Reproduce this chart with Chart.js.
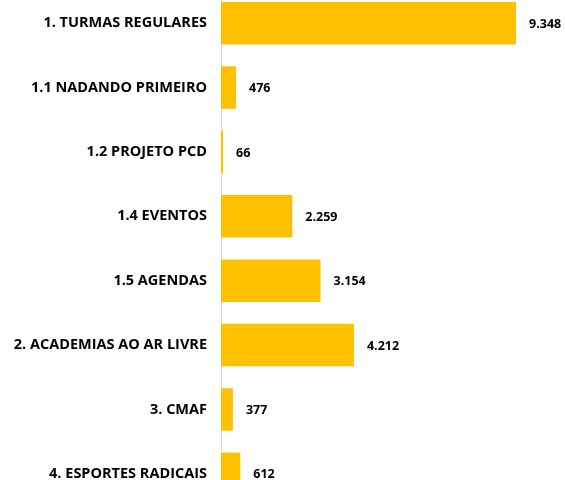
<!DOCTYPE html>
<html>
<head>
<meta charset="utf-8">
<script src="https://cdn.jsdelivr.net/npm/chart.js@4"></script>
<style>
  html, body { margin:0; padding:0; background:#fff; overflow:hidden; }
  #wrap { position:absolute; left:0; top:-9px; width:565px; height:515px; }
</style>
</head>
<body>
<div id="wrap"><canvas id="chart"></canvas></div>
<script>
// ===== dados =====
const categorias = [
  '1. TURMAS REGULARES',
  '1.1 NADANDO PRIMEIRO',
  '1.2 PROJETO PCD',
  '1.4 EVENTOS',
  '1.5 AGENDAS',
  '2. ACADEMIAS AO AR LIVRE',
  '3. CMAF',
  '4. ESPORTES RADICAIS'
];
const valores = [9348, 476, 66, 2259, 3154, 4212, 377, 612];

const FONTE = '"Open Sans", "Noto Sans", sans-serif';
const fmt = v => String(v).replace(/\B(?=(\d{3})+(?!\d))/g, '.');

// rotulos de valor ao lado das barras
const valueLabels = {
  id: 'valueLabels',
  afterDatasetsDraw(chart) {
    const ctx = chart.ctx;
    const meta = chart.getDatasetMeta(0);
    ctx.save();
    ctx.font = 'bold 12.5px ' + FONTE;
    ctx.fillStyle = '#000';
    ctx.textBaseline = 'middle';
    ctx.textAlign = 'left';
    meta.data.forEach((bar, i) => {
      ctx.fillText(fmt(valores[i]), bar.x + 13, bar.y + 1);
    });
    ctx.restore();
  }
};

new Chart(document.getElementById('chart'), {
  type: 'bar',
  data: {
    labels: categorias,
    datasets: [{
      data: valores,
      backgroundColor: '#FFC000',
      borderWidth: 0,
      barPercentage: 0.66,
      categoryPercentage: 1
    }]
  },
  options: {
    indexAxis: 'y',
    responsive: true,
    maintainAspectRatio: false,
    animation: false,
    layout: { padding: 0 },
    plugins: { legend: { display: false }, tooltip: { enabled: false } },
    scales: {
      x: { display: false, min: 0, max: 10900 },
      y: {
        afterFit: s => { s.width = 221; s.paddingTop = 0; s.paddingBottom = 0; },
        grid: { display: false, drawTicks: false },
        border: { display: true, color: '#d9d9d9', width: 1 },
        ticks: {
          color: '#000',
          padding: 14,
          font: { family: FONTE, size: 14.5, weight: 'bold' }
        }
      }
    }
  },
  plugins: [valueLabels]
});
</script>
</body>
</html>
